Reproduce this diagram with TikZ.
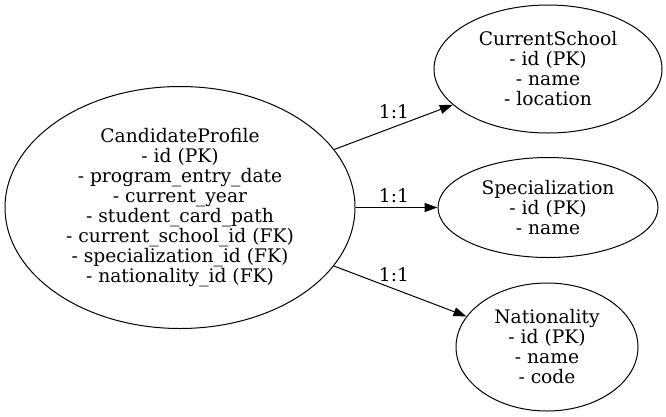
\documentclass[tikz,border=0pt]{standalone}
\usepackage{fontspec}
\setmainfont{DejaVu Serif}
\usetikzlibrary{shapes.geometric,arrows.meta}
\begin{document}
\begin{tikzpicture}[x=1pt,y=-1pt,
  ent/.style={ellipse,draw,line width=1pt,inner sep=0pt,align=center,
    font=\fontsize{18.67}{20}\selectfont},
  lbl/.style={inner sep=0pt,font=\fontsize{18.67}{20}\selectfont},
  rel/.style={line width=1pt,-{Triangle[length=13pt,width=9pt]}}]
\useasboundingbox (0,0) rectangle (666,416);
\node[ent,minimum width=350pt,minimum height=242pt] (cp) at (180,207.5)
  {CandidateProfile\\- id (PK)\\- program\_entry\_date\\- current\_year\\- student\_card\_path\\- current\_school\_id (FK)\\- specialization\_id (FK)\\- nationality\_id (FK)};
\node[ent,minimum width=228pt,minimum height=128pt] (cs) at (548,69)
  {CurrentSchool\\- id (PK)\\- name\\- location};
\node[ent,minimum width=220pt,minimum height=100pt] (sp) at (548,207.5)
  {Specialization\\- id (PK)\\- name};
\node[ent,minimum width=182pt,minimum height=128pt] (na) at (547,347)
  {Nationality\\- id (PK)\\- name\\- code};
\draw[rel] (cp) -- (cs);
\draw[rel] (cp.east) -- (sp.west);
\draw[rel] (cp) -- (na);
\node[lbl] (l1) at (394,112) {1:1};
\node[lbl] (l2) at (394,196) {1:1};
\node[lbl] (l3) at (394,275) {1:1};
\end{tikzpicture}
\end{document}
